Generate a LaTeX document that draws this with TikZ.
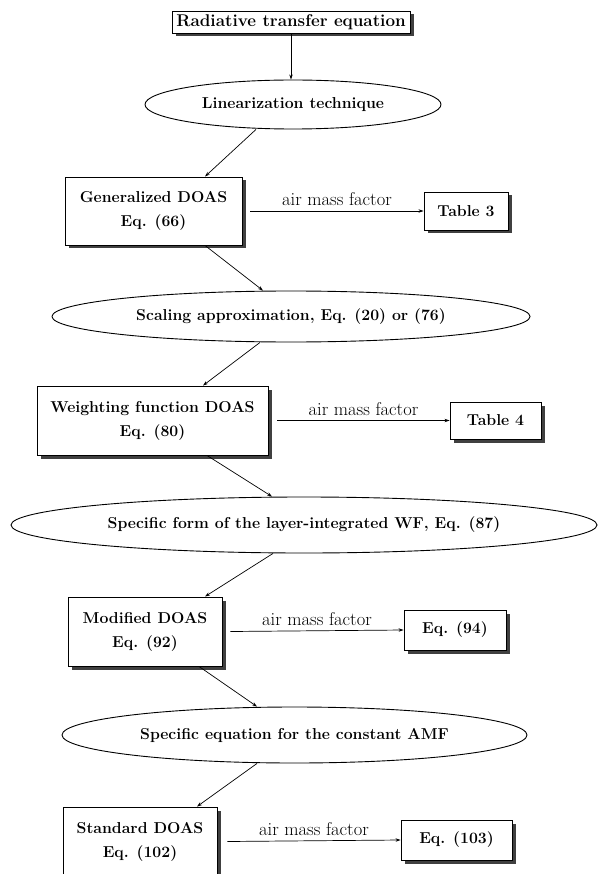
\documentclass[tikz,border=0pt]{standalone}
\usetikzlibrary{shapes.geometric,shadows,arrows.meta}
\begin{document}
\begin{tikzpicture}[x=1pt,y=-1pt,
  box/.style={draw, line width=0.9pt, fill=white, rectangle, inner sep=0pt, align=center,
    font=\fontsize{15.8}{24}\selectfont\bfseries,
    drop shadow={shadow xshift=3.5pt, shadow yshift=-3.5pt, fill=black!75, opacity=1}},
  oval/.style={draw, line width=0.9pt, fill=white, ellipse, inner sep=0pt,
    font=\fontsize{15.8}{18}\selectfont\bfseries},
  arr/.style={-{Stealth[length=5pt,width=3.4pt]}, line width=0.7pt},
  lbl/.style={font=\fontsize{18.5}{20}\selectfont, inner sep=0pt, above=5pt}
]
\useasboundingbox (0,0) rectangle (597,874);

% nodes
\node[box, minimum width=238pt, minimum height=22pt, font=\fontsize{17}{20}\selectfont\bfseries] (top) at (291,22) {Radiative transfer equation};
\node[oval, minimum width=296pt, minimum height=49pt] (e1) at (293,104.5) {Linearization technique};
\node[box, minimum width=177pt, minimum height=68pt] (g) at (153.5,211) {Generalized DOAS\\Eq. (66)};
\node[box, minimum width=84pt, minimum height=38pt] (t3) at (466,211) {Table 3};
\node[oval, minimum width=478pt, minimum height=51pt] (e2) at (291,316.5) {Scaling approximation, Eq. (20) or (76)};
\node[box, minimum width=231pt, minimum height=69pt] (w) at (152.5,420.5) {Weighting function DOAS\\Eq. (80)};
\node[box, minimum width=91pt, minimum height=37pt] (t4) at (495.5,420.5) {Table 4};
\node[oval, minimum width=586pt, minimum height=56pt] (e3) at (304,525) {Specific form of the layer-integrated WF, Eq. (87)};
\node[box, minimum width=154pt, minimum height=69pt] (m) at (145,631.5) {Modified DOAS\\Eq. (92)};
\node[box, minimum width=102pt, minimum height=40pt] (q94) at (455,630) {Eq. (94)};
\node[oval, minimum width=465pt, minimum height=56pt] (e4) at (294.5,735) {Specific equation for the constant AMF};
\node[box, minimum width=154pt, minimum height=69pt] (s) at (140,841.5) {Standard DOAS\\Eq. (102)};
\node[box, minimum width=111pt, minimum height=40pt] (q103) at (456.5,840) {Eq. (103)};

% vertical / diagonal connectors
\draw[arr] (top.south) -- (top.south |- e1.north);
\draw[arr] ([xshift=-37pt]e1.south) -- ([xshift=51.5pt]g.north);
\draw[arr] ([xshift=51.5pt]g.south) -- ([xshift=-28pt]e2.north);
\draw[arr] ([xshift=-31pt]e2.south) -- ([xshift=50.5pt]w.north);
\draw[arr] ([xshift=54.5pt]w.south) -- ([xshift=-32pt]e3.north);
\draw[arr] ([xshift=-31pt]e3.south) -- ([xshift=60pt]m.north);
\draw[arr] ([xshift=54pt]m.south) -- ([xshift=-37.5pt]e4.north);
\draw[arr] ([xshift=-37.5pt]e4.south) -- ([xshift=57pt]s.north);

% air mass factor connectors
\draw[arr] ([xshift=8pt]g.east) -- (t3.west) node[lbl, midway] {air mass factor};
\draw[arr] ([xshift=9pt]w.east) -- (t4.west) node[lbl, midway] {air mass factor};
\draw[arr] ([xshift=8pt]m.east) -- (q94.west) node[lbl, midway] {air mass factor};
\draw[arr] ([xshift=10pt]s.east) -- (q103.west) node[lbl, midway] {air mass factor};
\end{tikzpicture}
\end{document}
